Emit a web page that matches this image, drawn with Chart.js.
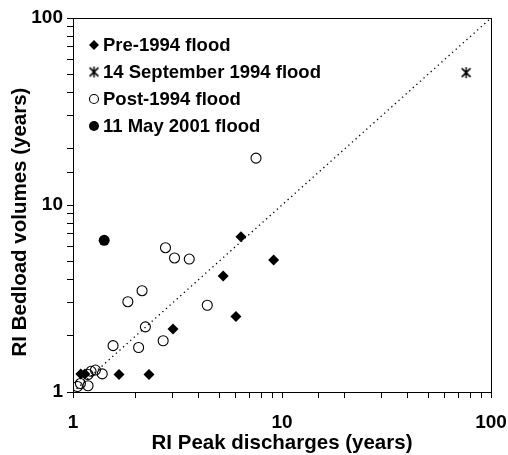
<!DOCTYPE html>
<html>
<head>
<meta charset="utf-8">
<script src="https://cdn.jsdelivr.net/npm/chart.js@4.4.0/dist/chart.umd.min.js"></script>
<style>
html, body { margin: 0; padding: 0; background: #fff; }
canvas { display: block; }
</style>
</head>
<body>
<canvas id="riChart" width="508" height="455"></canvas>
<script>
// data (RI peak discharge, RI bedload volume)
const preX = [1.09, 1.14, 1.66, 2.31, 3.01, 6.02, 5.23, 6.36, 9.12];
const preY = [1.25, 1.25, 1.24, 1.24, 2.17, 2.53, 4.17, 6.77, 5.08];

const sepX = [76];
const sepY = [51];

const postX = [7.51, 2.77, 3.06, 3.60, 2.14, 1.83, 4.39, 2.22, 1.555, 2.06, 2.70, 1.38, 1.28, 1.22, 1.18, 1.085, 1.05, 1.18];
const postY = [17.8, 5.91, 5.21, 5.14, 3.48, 3.04, 2.91, 2.23, 1.77, 1.73, 1.88, 1.25, 1.31, 1.29, 1.24, 1.11, 1.07, 1.08];

const mayX = [1.41];
const mayY = [6.47];

const lineX = [1, 100];
const lineY = [1, 100];

const seriesNames = ['Pre-1994 flood', '14 September 1994 flood', 'Post-1994 flood', '11 May 2001 flood'];
const majorTicks = [1, 10, 100];

const FONT = "Arial, 'Liberation Sans', sans-serif";

function pts(xs, ys) {
  return xs.map((x, i) => ({ x: x, y: ys[i] }));
}

// six-armed asterisk marker
function makeStar(size) {
  const c = document.createElement('canvas');
  c.width = size; c.height = size;
  const g = c.getContext('2d');
  const h = size / 2, r = size / 2 - 1;
  g.strokeStyle = '#000';
  g.lineWidth = 1.5;
  g.beginPath();
  g.moveTo(h - r * 0.8, h - r * 0.8); g.lineTo(h + r * 0.8, h + r * 0.8);
  g.moveTo(h + r * 0.8, h - r * 0.8); g.lineTo(h - r * 0.8, h + r * 0.8);
  g.moveTo(h, h - r); g.lineTo(h, h + r);
  g.stroke();
  return c;
}
const starImg = makeStar(13);

// frame around the plot + legend + axis titles
const framePlugin = {
  id: 'frame',
  afterDraw(chart) {
    const ctx = chart.ctx;
    const a = chart.chartArea;
    ctx.save();
    ctx.strokeStyle = '#000';
    ctx.lineWidth = 1;
    ctx.strokeRect(a.left + 0.5, a.top + 0.5, a.right - a.left, a.bottom - a.top);

    // legend
    const lx = 94, tx = 103;
    const rows = [45, 72, 99, 126];
    ctx.fillStyle = '#000';
    ctx.beginPath();
    ctx.moveTo(lx - 5, rows[0]); ctx.lineTo(lx, rows[0] - 5); ctx.lineTo(lx + 5, rows[0]); ctx.lineTo(lx, rows[0] + 5);
    ctx.closePath(); ctx.fill();
    ctx.drawImage(starImg, lx - 6.5, rows[1] - 6.5);
    ctx.beginPath(); ctx.arc(lx, rows[2], 4.5, 0, Math.PI * 2); ctx.lineWidth = 1.1; ctx.stroke();
    ctx.beginPath(); ctx.arc(lx, rows[3], 5, 0, Math.PI * 2); ctx.fill();

    ctx.font = 'bold 18.5px ' + FONT;
    ctx.textAlign = 'left';
    ctx.textBaseline = 'middle';
    seriesNames.forEach((n, i) => ctx.fillText(n, tx, rows[i] + 1));

    // axis titles
    ctx.font = 'bold 20.5px ' + FONT;
    ctx.textAlign = 'center';
    ctx.fillText('RI Peak discharges (years)', (a.left + a.right) / 2, 443);
    ctx.translate(20, 222);
    ctx.rotate(-Math.PI / 2);
    ctx.fillText('RI Bedload volumes (years)', 0, 0);
    ctx.restore();
  }
};

function axisTicks(v) {
  return majorTicks.includes(Math.round(v * 1000) / 1000) ? String(v) : '';
}

const ctx = document.getElementById('riChart').getContext('2d');
new Chart(ctx, {
  type: 'scatter',
  data: {
    datasets: [
      {
        label: '1:1',
        data: pts(lineX, lineY),
        showLine: true,
        borderColor: '#000',
        borderWidth: 1.3,
        borderDash: [1.3, 3.5],
        pointRadius: 0,
        order: 5
      },
      {
        label: seriesNames[0],
        data: pts(preX, preY),
        pointStyle: 'rectRot',
        pointRadius: 5.5,
        backgroundColor: '#000',
        borderColor: '#000',
        borderWidth: 0
      },
      {
        label: seriesNames[1],
        data: pts(sepX, sepY),
        pointStyle: starImg,
        pointRadius: 6
      },
      {
        label: seriesNames[2],
        data: pts(postX, postY),
        pointStyle: 'circle',
        pointRadius: 5,
        backgroundColor: 'rgba(255,255,255,0)',
        borderColor: '#000',
        borderWidth: 1.1
      },
      {
        label: seriesNames[3],
        data: pts(mayX, mayY),
        pointStyle: 'circle',
        pointRadius: 5.5,
        backgroundColor: '#000',
        borderColor: '#000',
        borderWidth: 0
      }
    ]
  },
  options: {
    responsive: false,
    animation: false,
    layout: { padding: { top: 18, right: 0, left: 0, bottom: 0 } },
    plugins: {
      legend: { display: false },
      tooltip: { enabled: false }
    },
    scales: {
      x: {
        type: 'logarithmic',
        min: 1,
        max: 100,
        afterFit(s) { s.height = 63; s.paddingRight = 17; },
        border: { display: true, color: '#000', width: 1 },
        grid: { drawOnChartArea: false, drawTicks: true, tickLength: 6, color: '#000' },
        ticks: {
          autoSkip: false,
          maxRotation: 0,
          padding: 13,
          color: '#000',
          font: { family: FONT, size: 19, weight: 'bold' },
          callback: axisTicks
        }
      },
      y: {
        type: 'logarithmic',
        min: 1,
        max: 100,
        afterFit(s) { s.width = 73; },
        border: { display: true, color: '#000', width: 1 },
        grid: { drawOnChartArea: false, drawTicks: true, tickLength: 6, color: '#000' },
        ticks: {
          autoSkip: false,
          padding: 4,
          color: '#000',
          font: { family: FONT, size: 19, weight: 'bold' },
          callback: axisTicks
        }
      }
    }
  },
  plugins: [framePlugin]
});
</script>
</body>
</html>
